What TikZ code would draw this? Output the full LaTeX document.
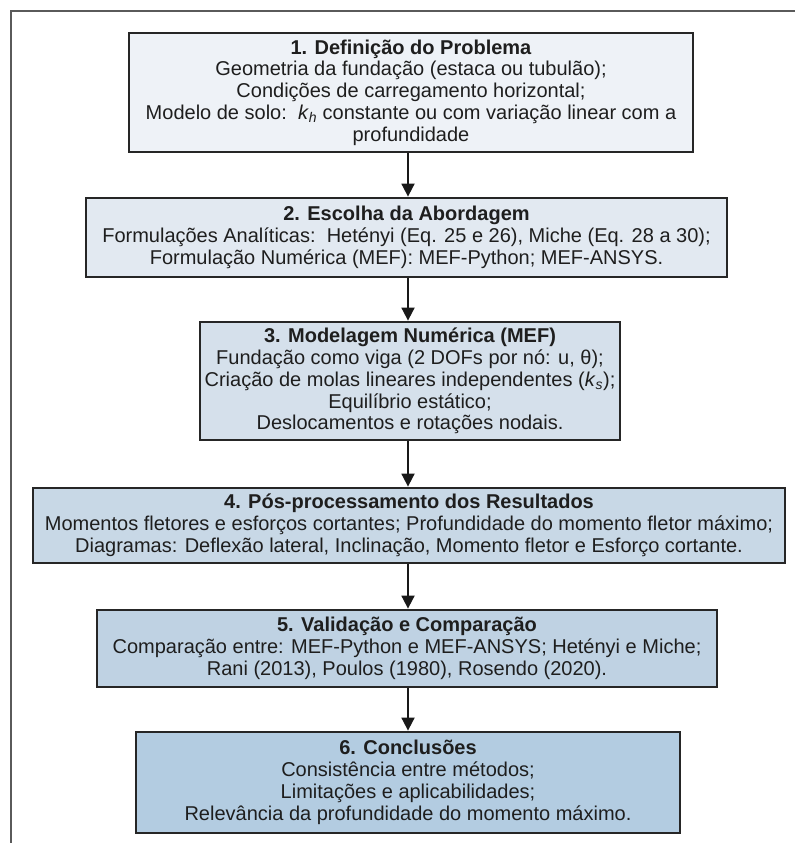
\documentclass[tikz,border=0pt]{standalone}
\usepackage{fontspec}
\setmainfont{Liberation Sans}
\usetikzlibrary{arrows.meta}
\definecolor{c1}{HTML}{EEF2F7}
\definecolor{c2}{HTML}{E2E9F1}
\definecolor{c3}{HTML}{D5E0EB}
\definecolor{c4}{HTML}{C8D8E6}
\definecolor{c5}{HTML}{BFD2E3}
\definecolor{c6}{HTML}{B3CCE1}
\definecolor{txt}{HTML}{1E1E1E}
\definecolor{frame}{HTML}{5A5A5A}
\tikzset{
  flowbox/.style={draw=black!85, line width=2.8pt, rectangle, inner sep=0pt,
    align=center, text=txt, font=\fontsize{20}{21.8}\selectfont},
  arr/.style={draw=black!90, line width=1.8pt, -{Triangle[width=13pt,length=13pt]}},
}
\begin{document}
\begin{tikzpicture}[x=1pt,y=-1pt]
\useasboundingbox (0,0) rectangle (795,843);
\draw[frame, line width=1.4pt] (11,843) -- (11,11) -- (795,11);
\coordinate (ax) at (408,0);
\node[flowbox, fill=c1, minimum width=564pt, minimum height=119pt] (b1) at (411,92.5)
  {\textbf{1. Definição do Problema}\\
   Geometria da fundação (estaca ou tubulão);\\
   Condições de carregamento horizontal;\\
   Modelo de solo:\ \ \textit{k}\textsubscript{\textit{h}} constante ou com variação linear com a\\
   profundidade};
\node[flowbox, fill=c2, minimum width=641pt, minimum height=79pt] (b2) at (406.5,237.5)
  {\textbf{2. Escolha da Abordagem}\\
   Formulações Analíticas:\ \ Hetényi (Eq. 25 e 26), Miche (Eq. 28 a 30);\\
   Formulação Numérica (MEF): MEF-Python; MEF-ANSYS.};
\node[flowbox, fill=c3, minimum width=420pt, minimum height=118pt] (b3) at (410,381)
  {\textbf{3. Modelagem Numérica (MEF)}\\
   Fundação como viga (2 DOFs por nó: u, θ);\\
   Criação de molas lineares independentes (\textit{k}\textsubscript{\textit{s}});\\
   Equilíbrio estático;\\
   Deslocamentos e rotações nodais.};
\node[flowbox, fill=c4, minimum width=752pt, minimum height=75pt] (b4) at (409,525.5)
  {\textbf{4. Pós-processamento dos Resultados}\\
   Momentos fletores e esforços cortantes; Profundidade do momento fletor máximo;\\
   Diagramas: Deflexão lateral, Inclinação, Momento fletor e Esforço cortante.};
\node[flowbox, fill=c5, minimum width=620pt, minimum height=77pt] (b5) at (407,648.5)
  {\textbf{5. Validação e Comparação}\\
   Comparação entre: MEF-Python e MEF-ANSYS; Hetényi e Miche;\\
   Rani (2013), Poulos (1980), Rosendo (2020).};
\node[flowbox, fill=c6, minimum width=544pt, minimum height=101pt] (b6) at (408,782.5)
  {\textbf{6. Conclusões}\\
   Consistência entre métodos;\\
   Limitações e aplicabilidades;\\
   Relevância da profundidade do momento máximo.};
\draw[arr] (b1.south -| ax) -- (b2.north -| ax);
\draw[arr] (b2.south -| ax) -- (b3.north -| ax);
\draw[arr] (b3.south -| ax) -- (b4.north -| ax);
\draw[arr] (b4.south -| ax) -- (b5.north -| ax);
\draw[arr] (b5.south -| ax) -- (b6.north -| ax);
\end{tikzpicture}
\end{document}
